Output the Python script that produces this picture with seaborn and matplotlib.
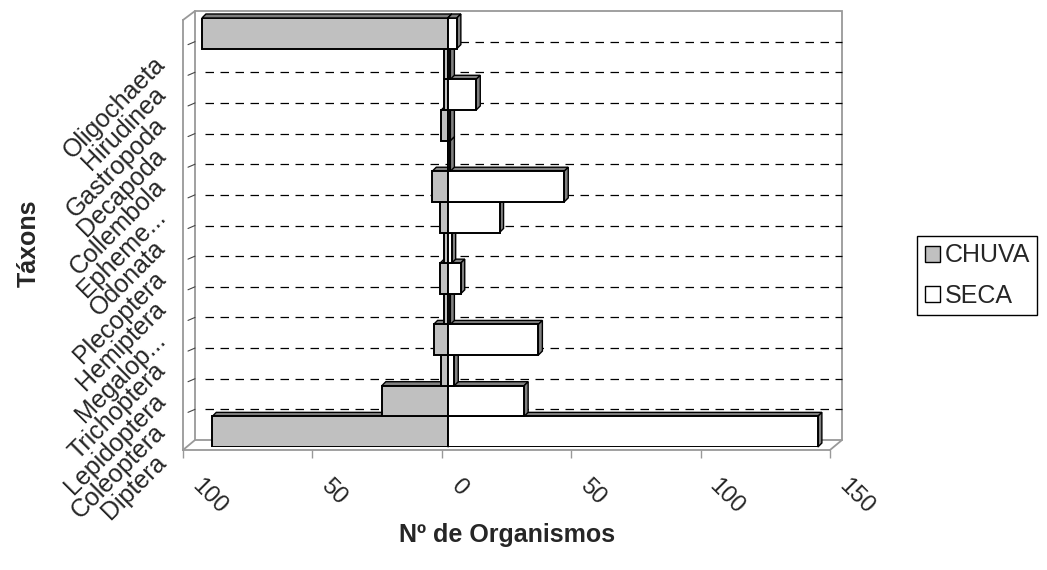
import matplotlib
matplotlib.use('Agg')
import numpy as np
import pandas as pd
import matplotlib.pyplot as plt
import seaborn as sns
from matplotlib.patches import Polygon, Rectangle, Patch
from matplotlib.lines import Line2D
from matplotlib.transforms import ScaledTranslation, IdentityTransform, blended_transform_factory

# ---------------- data ----------------
taxa = ['Oligochaeta', 'Hirudinea', 'Gastropoda', 'Decapoda', 'Collembola',
        'Epheme...', 'Odonata', 'Plecoptera', 'Hemiptera', 'Megalop...',
        'Trichoptera', 'Lepidoptera', 'Coleoptera', 'Diptera']
chuva = [-95, -1.5, -1.5, -2.5, 0, -6, -3, -1.5, -3, -1.5, -5.5, -2.5, -25.5, -91]
seca = [3.5, 1, 11, 1, 1, 45, 20, 1.5, 5, 1, 35, 2.5, 29.5, 143]
series_names = ['CHUVA', 'SECA']
xtick_values = [-100, -50, 0, 50, 100, 150]
xtick_labels = ['100', '50', '0', '50', '100', '150']
x_title = 'Nº de Organismos'
y_title = 'Táxons'

# ---------------- style ----------------
sns.set_style('white')
plt.rcParams['font.family'] = ['Liberation Sans', 'DejaVu Sans']

W, H, DPI = 1047, 570, 100
GRAY = '#999999'
FACE3D = '#808080'
colors = {'CHUVA': '#c0c0c0', 'SECA': '#ffffff'}

fig = plt.figure(figsize=(W / DPI, H / DPI), dpi=DPI)
fig.patch.set_facecolor('white')

# axes holding the bars (mid depth of the pseudo-3D box)
ax = fig.add_axes([189 / W, (H - 447) / H, 647 / W, 429 / H], zorder=2)
# front plane axes (floor front edge with ticks, left wall front edge)
ax_front = fig.add_axes([183 / W, (H - 450) / H, 647 / W, 430 / H], zorder=1)

df = pd.DataFrame({
    'taxon': taxa * 2,
    'valor': chuva + seca,
    'estacao': [series_names[0]] * len(taxa) + [series_names[1]] * len(taxa),
})

sns.barplot(data=df, x='valor', y='taxon', hue='estacao', order=taxa,
            hue_order=series_names, palette=colors, dodge=False, width=1.0,
            saturation=1, edgecolor='black', linewidth=1.4, errorbar=None,
            orient='h', legend=False, ax=ax)

ax.set_xlim(xtick_values[0], xtick_values[-1])
ax.set_ylim(len(taxa) - 0.5, -0.5)
ax.patch.set_visible(False)
for s in ax.spines.values():
    s.set_visible(False)
ax.set_xlabel('')
ax.set_ylabel('')
ax.set_xticks([])
ax.set_yticks(range(len(taxa)))
ax.set_yticklabels(taxa, rotation=45, ha='right', va='center',
                   rotation_mode='anchor', fontsize=18)
ax.tick_params(axis='y', length=0, pad=0)
ylab_off = ScaledTranslation(-27 / DPI, -27 / DPI, fig.dpi_scale_trans)
for lab in ax.get_yticklabels():
    lab.set_transform(lab.get_transform() + ylab_off)

# ---------------- pseudo-3D bar faces ----------------
d = 4
n = len(taxa)
for p in list(ax.patches):
    bb = p.get_bbox()
    c = int(round((bb.y0 + bb.y1) / 2))
    is_seca = p.get_facecolor()[0] > 0.9
    base = 10 + (n - 1 - c) + (0.5 if is_seca else 0.0)
    pts = ax.transData.transform([(bb.x0, bb.y0), (bb.x1, bb.y1)])
    L, R = pts[:, 0].min(), pts[:, 0].max()
    B, T = pts[:, 1].min(), pts[:, 1].max()
    top = Polygon([(L, T), (R, T), (R + d, T + d), (L + d, T + d)], closed=True,
                  transform=IdentityTransform(), facecolor=FACE3D,
                  edgecolor='black', lw=1.0, zorder=base, clip_on=False)
    side = Polygon([(R, B), (R + d, B + d), (R + d, T + d), (R, T)], closed=True,
                   transform=IdentityTransform(), facecolor=FACE3D,
                   edgecolor='black', lw=1.0, zorder=base, clip_on=False)
    ax.add_artist(top)
    ax.add_artist(side)
    p.set_zorder(base + 0.2)

# ---------------- back wall, gridlines, floor ----------------
back_off = ScaledTranslation(6 / DPI, 7 / DPI, fig.dpi_scale_trans)
ax.add_artist(Rectangle((0, 0), 1, 1, transform=ax.transAxes + back_off,
                        fill=False, edgecolor=GRAY, lw=1.3, zorder=0.5,
                        clip_on=False))
trans_grid = blended_transform_factory(ax.transAxes, ax.transData) + back_off
bounds = np.arange(0.5, n - 1, 1.0)
for b in bounds:
    ax.add_artist(Line2D([0.015, 1], [b, b], transform=trans_grid, color='black',
                         lw=0.9, ls=(0, (6.8, 5.2)), zorder=1, clip_on=False))
    pb = trans_grid.transform((0, b))
    ax.add_artist(Line2D([pb[0], pb[0] - 7], [pb[1], pb[1] - 3],
                         transform=IdentityTransform(), color='#444444',
                         lw=0.8, zorder=1, clip_on=False))

def pdisp(a, pt, off=(0, 0)):
    return a.transAxes.transform(pt) + np.array(off)

for corner in [(0, 1), (0, 0), (1, 0)]:
    f = pdisp(ax_front, corner)
    bk = pdisp(ax, corner, (6, 7))
    ax.add_artist(Line2D([f[0], bk[0]], [f[1], bk[1]], transform=IdentityTransform(),
                         color=GRAY, lw=1.3, zorder=0.6, clip_on=False))

ax_front.patch.set_visible(False)
ax_front.set_xlim(xtick_values[0], xtick_values[-1])
ax_front.set_ylim(0, 1)
ax_front.spines['top'].set_visible(False)
ax_front.spines['right'].set_visible(False)
for s in ('left', 'bottom'):
    ax_front.spines[s].set_color(GRAY)
    ax_front.spines[s].set_linewidth(1.3)
ax_front.set_yticks([])
ax_front.set_xticks(xtick_values)
ax_front.set_xticklabels(xtick_labels, rotation=-45, ha='left', va='top',
                         rotation_mode='anchor', fontsize=17)
ax_front.tick_params(axis='x', direction='out', length=6, width=1.0,
                     color=GRAY, pad=3, bottom=True)
xlab_off = ScaledTranslation(20 / DPI, -12 / DPI, fig.dpi_scale_trans)
for lab in ax_front.get_xticklabels():
    lab.set_transform(lab.get_transform() + xlab_off)

# ---------------- titles ----------------
fig.text(29 / W, 1 - 243 / H, y_title, rotation=90, ha='center', va='center',
         fontsize=18, fontweight='bold')
fig.text(507 / W, 1 - 535 / H, x_title, ha='center', va='center',
         fontsize=18, fontweight='bold')

# ---------------- legend ----------------
handles = [Patch(facecolor=colors[s], edgecolor='black', label=s) for s in series_names]
leg = fig.legend(handles=handles, loc='upper left',
                 bbox_to_anchor=(917 / W, 1 - 236 / H), frameon=True,
                 fancybox=False, edgecolor='black', framealpha=1, fontsize=18,
                 handlelength=0.6, handleheight=0.6, handletextpad=0.2,
                 borderpad=0.3, labelspacing=0.65, borderaxespad=0)
leg.get_frame().set_linewidth(1.0)

fig.savefig('out.png', dpi=DPI)
